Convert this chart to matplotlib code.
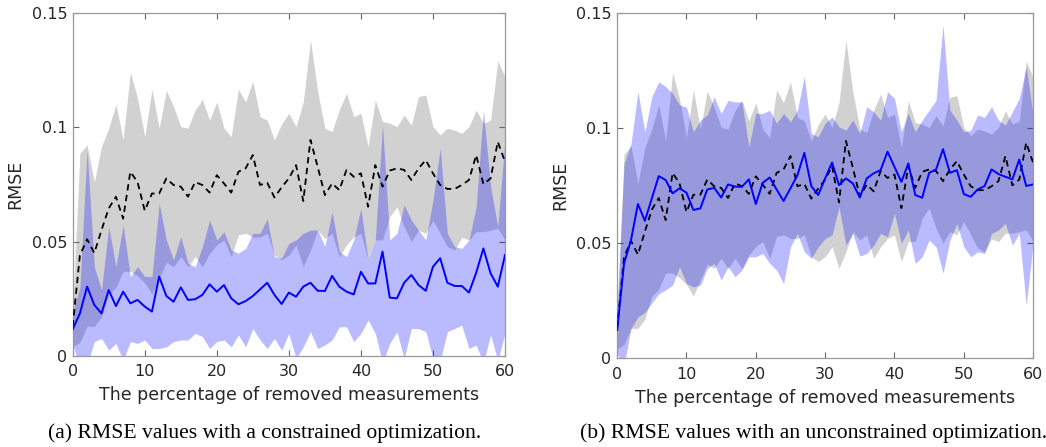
import numpy as np
import matplotlib
matplotlib.use('Agg')
import matplotlib.pyplot as plt

# percentage of removed measurements
pct = np.arange(0, 61)

# baseline (black dashed + gray band), same in both panels
base_mean = [0.013, 0.044, 0.051, 0.045, 0.055, 0.0645, 0.0696, 0.060, 0.0805, 0.076,
             0.0635, 0.071, 0.071, 0.0776, 0.0747, 0.074, 0.0696, 0.076, 0.0747, 0.0714,
             0.079, 0.0754, 0.0714, 0.0805, 0.082, 0.0878, 0.0747, 0.0757, 0.0693, 0.0737,
             0.0776, 0.0834, 0.0677, 0.0944, 0.0827, 0.0703, 0.0754, 0.0725, 0.0813, 0.0783,
             0.0798, 0.0652, 0.0834, 0.074, 0.081, 0.082, 0.0813, 0.0769, 0.082, 0.0856,
             0.0798, 0.0747, 0.073, 0.073, 0.0747, 0.0769, 0.0878, 0.0751, 0.0776, 0.0936,
             0.0849]
base_upper = [0.020, 0.0886, 0.0922, 0.076, 0.0915, 0.0995, 0.110, 0.0944, 0.124, 0.1126,
              0.0958, 0.1165, 0.0995, 0.116, 0.109, 0.1002, 0.0995, 0.1075, 0.112, 0.103,
              0.111, 0.0995, 0.0958, 0.1165, 0.111, 0.120, 0.1046, 0.103, 0.0944, 0.1014,
              0.106, 0.1002, 0.111, 0.138, 0.1155, 0.0995, 0.098, 0.1075, 0.1148, 0.1046,
              0.106, 0.0915, 0.1118, 0.1024, 0.1017, 0.1002, 0.1053, 0.1009, 0.1133, 0.114,
              0.1002, 0.0966, 0.0995, 0.0987, 0.0973, 0.1002, 0.1075, 0.1017, 0.103, 0.129,
              0.122]
base_lower = [0.004, 0.006, 0.013, 0.013, 0.017, 0.027, 0.030, 0.037, 0.037, 0.035,
              0.032, 0.027, 0.034, 0.041, 0.039, 0.0434, 0.039, 0.0434, 0.039, 0.0449,
              0.0485, 0.0507, 0.0434, 0.0529, 0.0536, 0.052, 0.052, 0.0536, 0.0441, 0.042,
              0.0441, 0.0485, 0.039, 0.0463, 0.055, 0.0514, 0.0536, 0.0434, 0.0485, 0.0521,
              0.0536, 0.042, 0.0507, 0.0507, 0.0609, 0.0652, 0.0565, 0.050, 0.055, 0.0536,
              0.0594, 0.0536, 0.0478, 0.0463, 0.0518, 0.0507, 0.0543, 0.0543, 0.055, 0.0558,
              0.0507]

# (a) constrained optimization
con_mean = [0.0117, 0.0186, 0.0303, 0.0223, 0.0186, 0.0288, 0.0218, 0.0281, 0.023, 0.0245,
            0.0216, 0.0194, 0.0347, 0.0262, 0.0237, 0.030, 0.0245, 0.0248, 0.0267, 0.0313,
            0.0281, 0.031, 0.0252, 0.0226, 0.024, 0.0262, 0.0291, 0.032, 0.0267, 0.0227,
            0.0277, 0.0259, 0.0303, 0.032, 0.0285, 0.0284, 0.035, 0.0303, 0.0281, 0.0269,
            0.0368, 0.0317, 0.0317, 0.0456, 0.0255, 0.0252, 0.032, 0.0354, 0.031, 0.0285,
            0.039, 0.0427, 0.032, 0.0306, 0.0306, 0.0277, 0.0364, 0.047, 0.0361, 0.0303,
            0.0441]
con_upper = [0.019, 0.030, 0.090, 0.039, 0.0288, 0.0565, 0.039, 0.0572, 0.0347, 0.039,
             0.0347, 0.0347, 0.0667, 0.0507, 0.042, 0.0521, 0.0405, 0.039, 0.0478, 0.0594,
             0.0507, 0.0543, 0.0463, 0.0449, 0.047, 0.0536, 0.0536, 0.060, 0.0434, 0.0427,
             0.0492, 0.0507, 0.0536, 0.055, 0.055, 0.0478, 0.063, 0.0456, 0.0434, 0.0507,
             0.0645, 0.042, 0.0507, 0.101, 0.0507, 0.0536, 0.066, 0.0594, 0.055, 0.0507,
             0.068, 0.0907, 0.0536, 0.0478, 0.047, 0.0507, 0.0652, 0.1075, 0.074, 0.0565,
             0.0944]
con_lower = [0.005, -0.005, -0.004, 0.0063, 0.0077, 0.0026, 0.0055, -0.002, 0.0063, 0.0055,
             0.007, 0.0033, 0.0033, 0.004, 0.0063, 0.007, 0.007, 0.0099, 0.0085, 0.0033,
             0.0063, 0.007, 0.004, 0.0092, 0.004, 0.012, 0.007, 0.0033, 0.0077, 0.0026,
             0.0099, -0.001, 0.004, 0.0106, 0.0033, 0.0048, 0.007, 0.0128, 0.0128, 0.0063,
             0.0099, 0.0157, 0.0099, -0.003, 0.0055, 0.0106, -0.001, 0.012, 0.012, 0.0106,
             -0.001, -0.002, 0.0106, 0.012, 0.0135, 0.0033, 0.0048, -0.003, 0.0092, -0.002,
             0.0099]

# (b) unconstrained optimization
unc_mean = [0.0123, 0.0412, 0.0513, 0.067, 0.0597, 0.0694, 0.0791, 0.0774, 0.0716, 0.0738,
            0.0719, 0.0644, 0.0651, 0.0733, 0.074, 0.0698, 0.0755, 0.0745, 0.0745, 0.0777,
            0.067, 0.0762, 0.0785, 0.0733, 0.0683, 0.0738, 0.0795, 0.0892, 0.0748, 0.0709,
            0.0781, 0.085, 0.0752, 0.0781, 0.0759, 0.0698, 0.0781, 0.0803, 0.0817, 0.0897,
            0.0831, 0.0766, 0.0846, 0.0709, 0.0697, 0.0805, 0.082, 0.0908, 0.0805, 0.0817,
            0.0713, 0.0701, 0.0733, 0.0748, 0.082, 0.08, 0.0788, 0.0777, 0.0863, 0.0748,
            0.0755]
unc_upper = [0.02, 0.0846, 0.093, 0.1157, 0.0983, 0.1135, 0.120, 0.118, 0.115, 0.110,
             0.109, 0.0983, 0.1034, 0.1056, 0.1135, 0.1063, 0.112, 0.1113, 0.1113, 0.0918,
             0.1063, 0.1063, 0.1077, 0.102, 0.1063, 0.1027, 0.1077, 0.1225, 0.0976, 0.0962,
             0.102, 0.1048, 0.1005, 0.099, 0.1034, 0.0976, 0.1092, 0.107, 0.1034, 0.1157,
             0.1128, 0.0983, 0.1063, 0.0983, 0.1034, 0.1077, 0.112, 0.1446, 0.1077, 0.1034,
             0.0983, 0.099, 0.1056, 0.1046, 0.1092, 0.1034, 0.1012, 0.107, 0.1128, 0.1265,
             0.1056]
unc_lower = [0.002, -0.003, 0.013, 0.018, 0.020, 0.024, 0.028, 0.0297, 0.0318, 0.0398,
             0.0325, 0.031, 0.0318, 0.039, 0.0412, 0.034, 0.0398, 0.0354, 0.0383, 0.0441,
             0.0441, 0.0455, 0.0412, 0.0383, 0.0325, 0.0484, 0.0542, 0.0463, 0.0434, 0.0484,
             0.052, 0.0535, 0.0658, 0.0491, 0.0542, 0.0444, 0.0455, 0.0491, 0.0542, 0.0528,
             0.0629, 0.0499, 0.0557, 0.0412, 0.0441, 0.0513, 0.0484, 0.0369, 0.0513, 0.0586,
             0.0484, 0.0441, 0.0463, 0.0455, 0.0542, 0.0557, 0.0586, 0.0491, 0.0542, 0.0231,
             0.0499]

x_ticks = [0, 10, 20, 30, 40, 50, 60]
y_ticks = [0, 0.05, 0.1, 0.15]
y_tick_labels = ['0', '0.05', '0.1', '0.15']
x_label = 'The percentage of removed measurements'
captions = ['(a) RMSE values with a constrained optimization.',
            '(b) RMSE values with an unconstrained optimization.']

plt.rcParams['font.family'] = 'DejaVu Sans'

fig = plt.figure(figsize=(10.46, 4.47), dpi=100)
ax_a = fig.add_axes([0.0695, 0.2036, 0.4133, 0.768])
ax_b = fig.add_axes([0.590, 0.1984, 0.3977, 0.773])


def draw_panel(ax, mean, lower, upper):
    ax.fill_between(pct, base_lower, base_upper, color='#d1d1d1', linewidth=0, zorder=1)
    ax.fill_between(pct, lower, upper, color='#0000ff', alpha=0.27, linewidth=0, zorder=2)
    ax.plot(pct, base_mean, color='black', linestyle=(0, (3.5, 2.5)), linewidth=1.3, zorder=3)
    ax.plot(pct, mean, color='#0000ff', linewidth=1.4, zorder=4)

    ax.set_xlim(0, 60)
    ax.set_ylim(0, 0.15)
    ax.set_xticks(x_ticks)
    ax.set_yticks(y_ticks)
    ax.set_yticklabels(y_tick_labels)
    ax.tick_params(direction='in', top=True, right=True, length=4, width=0.8,
                   color='#666666', labelcolor='#262626', labelsize=11.5)
    ax.tick_params(axis='x', pad=6)
    ax.tick_params(axis='y', pad=4)
    for sp in ax.spines.values():
        sp.set_color('#999999')
        sp.set_linewidth(0.9)
    ax.set_xlabel(x_label, fontsize=12.5, color='#262626', labelpad=5)
    ax.set_ylabel('RMSE', fontsize=12.5, color='#262626', labelpad=5)


draw_panel(ax_a, con_mean, con_lower, con_upper)
draw_panel(ax_b, unc_mean, unc_lower, unc_upper)

fig.text(48 / 1046, 1 - 433 / 447, captions[0], family='Liberation Serif',
         fontsize=15.6, ha='left', va='center')
fig.text(580 / 1046, 1 - 433 / 447, captions[1], family='Liberation Serif',
         fontsize=15.6, ha='left', va='center')

fig.savefig('out.png', dpi=100)
